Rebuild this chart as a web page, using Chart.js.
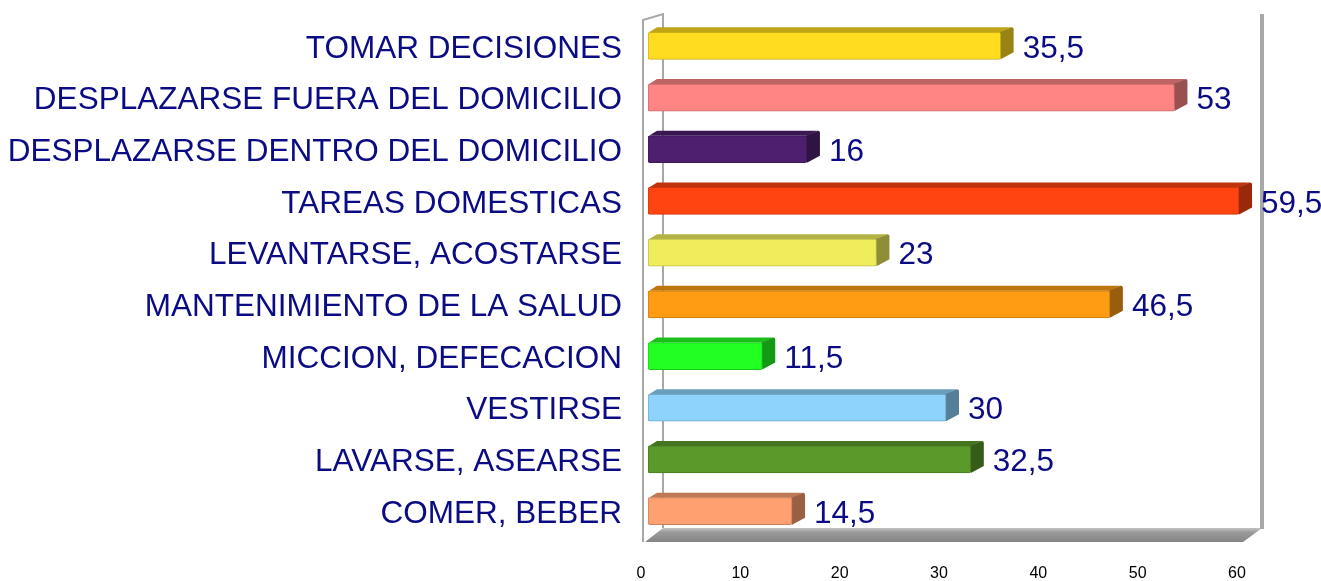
<!DOCTYPE html>
<html>
<head>
<meta charset="utf-8">
<script src="https://cdn.jsdelivr.net/npm/chart.js@4.4.1/dist/chart.umd.min.js"></script>
<style>
  html, body { margin: 0; padding: 0; background: #fff; }
  #wrap { position: relative; width: 1321px; height: 581px; }
</style>
</head>
<body>
<div id="wrap"><canvas id="myChart" width="1321" height="581"></canvas></div>
<script>
const categories = [
  "TOMAR DECISIONES",
  "DESPLAZARSE FUERA DEL DOMICILIO",
  "DESPLAZARSE DENTRO DEL DOMICILIO",
  "TAREAS DOMESTICAS",
  "LEVANTARSE, ACOSTARSE",
  "MANTENIMIENTO DE LA SALUD",
  "MICCION, DEFECACION",
  "VESTIRSE",
  "LAVARSE, ASEARSE",
  "COMER, BEBER",
];
const values = [35.5, 53, 16, 59.5, 23, 46.5, 11.5, 30, 32.5, 14.5];
const barColors = [
  "#ffdc1f",
  "#ff8585",
  "#4e1f6e",
  "#ff4411",
  "#efed5c",
  "#ff9c12",
  "#22ff22",
  "#8dd3fb",
  "#5a9a2a",
  "#ffa070",
];
const xMin = 0;
const xMax = 60;
const xStep = 10;

const NAVY = "#0b0b84";
const FONT = "'Liberation Sans', Arial, sans-serif";
const DX = 13, DY = 5;

function shade(hex, f) {
  const n = parseInt(hex.slice(1), 16);
  const r = Math.round(((n >> 16) & 255) * f);
  const g = Math.round(((n >> 8) & 255) * f);
  const b = Math.round((n & 255) * f);
  return `rgb(${r},${g},${b})`;
}

const frame3d = {
  id: "frame3d",
  beforeDatasetsDraw(chart) {
    const { ctx, chartArea: a } = chart;
    const fl = a.left - 5, bl = a.left + 15, br = a.right + 18, fr = a.right - 1;
    const topB = 14, topF = 20, floorB = a.bottom - 9, floorF = a.bottom + 5;
    ctx.save();
    // floor
    const g = ctx.createLinearGradient(0, floorB, 0, floorF);
    g.addColorStop(0, "#c4c4c4");
    g.addColorStop(0.3, "#9a9a9a");
    g.addColorStop(1, "#858585");
    ctx.fillStyle = g;
    ctx.beginPath();
    ctx.moveTo(fl + 2, floorF);
    ctx.lineTo(fr, floorF);
    ctx.lineTo(br, floorB);
    ctx.lineTo(bl, floorB);
    ctx.closePath();
    ctx.fill();
    // walls
    ctx.strokeStyle = "#a8a8a8";
    ctx.lineWidth = 2;
    ctx.beginPath();
    ctx.moveTo(fl, floorF);
    ctx.lineTo(fl, topF);
    ctx.lineTo(bl, topB);
    ctx.lineTo(bl, floorB);
    ctx.stroke();
    ctx.lineWidth = 4;
    ctx.beginPath();
    ctx.moveTo(br, topB);
    ctx.lineTo(br, floorB + 1);
    ctx.stroke();
    // 3D faces of the bars
    const meta = chart.getDatasetMeta(0);
    meta.data.forEach((el, i) => {
      const { x, y, base, height } = el.getProps(["x", "y", "base", "height"], true);
      const t = y - height / 2, b = y + height / 2;
      const c = barColors[i];
      ctx.fillStyle = shade(c, 0.75);
      ctx.beginPath();
      ctx.moveTo(base + 1, t);
      ctx.lineTo(base + DX - 4, t - DY);
      ctx.lineTo(x + DX - 2, t - DY);
      ctx.lineTo(x, t);
      ctx.closePath();
      ctx.fill();
      ctx.fillStyle = shade(c, 0.6);
      ctx.beginPath();
      ctx.moveTo(x - 1, t);
      ctx.lineTo(x + DX - 2, t - DY);
      ctx.quadraticCurveTo(x + DX, t - DY, x + DX, t - DY + 2);
      ctx.lineTo(x + DX, b - DY - 2);
      ctx.lineTo(x, b);
      ctx.closePath();
      ctx.fill();
    });
    ctx.restore();
  },
  afterDraw(chart) {
    const { ctx } = chart;
    const meta = chart.getDatasetMeta(0);
    ctx.save();
    ctx.fillStyle = NAVY;
    ctx.font = `31.5px ${FONT}`;
    ctx.textBaseline = "middle";
    ctx.textAlign = "left";
    meta.data.forEach((el, i) => {
      const txt = String(values[i]).replace(".", ",");
      ctx.fillText(txt, el.x + 22, el.y + 3);
    });
    ctx.restore();
  },
};

const ctx = document.getElementById("myChart").getContext("2d");
new Chart(ctx, {
  type: "bar",
  data: {
    labels: categories,
    datasets: [
      {
        data: values,
        backgroundColor: barColors,
        borderColor: barColors.map((c) => shade(c, 0.8)),
        borderWidth: 1,
        borderRadius: 2,
        borderSkipped: false,
        barThickness: 27,
      },
    ],
  },
  options: {
    indexAxis: "y",
    responsive: false,
    maintainAspectRatio: false,
    devicePixelRatio: 1,
    animation: false,
    layout: { padding: { top: 20, right: 77, bottom: 0, left: 0 } },
    plugins: { legend: { display: false }, tooltip: { enabled: false } },
    scales: {
      x: {
        min: xMin,
        max: xMax,
        grid: { display: false, drawTicks: false },
        border: { display: false },
        ticks: {
          stepSize: xStep,
          color: "#000",
          padding: 27,
          labelOffset: -7,
          maxRotation: 0,
          font: { family: FONT, size: 16 },
        },
        afterFit(scale) { scale.height = 44; },
      },
      y: {
        grid: { display: false, drawTicks: false },
        border: { display: false },
        ticks: {
          color: NAVY,
          padding: 26,
          labelOffset: 3,
          font: { family: FONT, size: 31.5 },
        },
        afterFit(scale) {
          scale.width = 648;
          scale.paddingTop = 0;
          scale.paddingBottom = 0;
        },
      },
    },
  },
  plugins: [frame3d],
});
</script>
</body>
</html>
